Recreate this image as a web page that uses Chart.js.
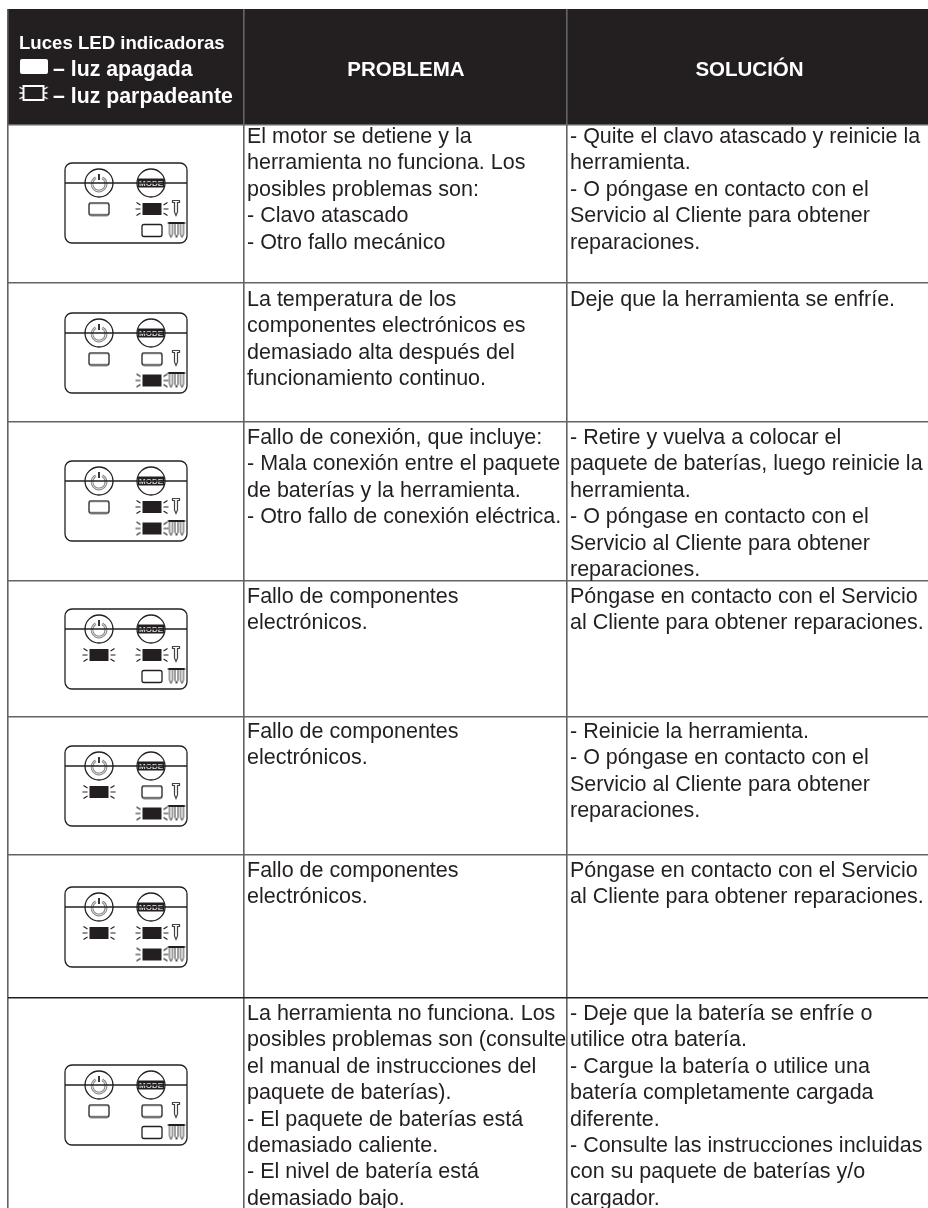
<!DOCTYPE html>
<html>
<head>
<meta charset="utf-8">
<style>
  html, body { margin: 0; padding: 0; background: #fff; }
  canvas { display: block; }
</style>
<script src="https://cdn.jsdelivr.net/npm/chart.js@4"></script>
</head>
<body>
<canvas id="myChart" width="928" height="1208"></canvas>
<script>
// table content
var headerLegend = ['Luces LED indicadoras', '– luz apagada', '– luz parpadeante'];
var headerProblem = 'PROBLEMA';
var headerSolution = 'SOLUCIÓN';

var problems = [
  ['El motor se detiene y la', 'herramienta no funciona. Los', 'posibles problemas son:', '- Clavo atascado', '- Otro fallo mecánico'],
  ['La temperatura de los', 'componentes electrónicos es', 'demasiado alta después del', 'funcionamiento continuo.'],
  ['Fallo de conexión, que incluye:', '- Mala conexión entre el paquete', 'de baterías y la herramienta.', '- Otro fallo de conexión eléctrica.'],
  ['Fallo de componentes', 'electrónicos.'],
  ['Fallo de componentes', 'electrónicos.'],
  ['Fallo de componentes', 'electrónicos.'],
  ['La herramienta no funciona. Los', 'posibles problemas son (consulte', 'el manual de instrucciones del', 'paquete de baterías).', '- El paquete de baterías está', 'demasiado caliente.', '- El nivel de batería está', 'demasiado bajo.']
];
var solutions = [
  ['- Quite el clavo atascado y reinicie la', 'herramienta.', '- O póngase en contacto con el', 'Servicio al Cliente para obtener', 'reparaciones.'],
  ['Deje que la herramienta se enfríe.'],
  ['- Retire y vuelva a colocar el', 'paquete de baterías, luego reinicie la', 'herramienta.', '- O póngase en contacto con el', 'Servicio al Cliente para obtener', 'reparaciones.'],
  ['Póngase en contacto con el Servicio', 'al Cliente para obtener reparaciones.'],
  ['- Reinicie la herramienta.', '- O póngase en contacto con el', 'Servicio al Cliente para obtener', 'reparaciones.'],
  ['Póngase en contacto con el Servicio', 'al Cliente para obtener reparaciones.'],
  ['- Deje que la batería se enfríe o', 'utilice otra batería.', '- Cargue la batería o utilice una', 'batería completamente cargada', 'diferente.', '- Consulte las instrucciones incluidas', 'con su paquete de baterías y/o', 'cargador.']
];

// LED state per row, 1 = blinking, 0 = off
var powerLed = [0, 0, 0, 1, 1, 1, 0];
var singleLed = [1, 0, 1, 1, 0, 1, 0];
var multiLed = [0, 1, 1, 0, 1, 1, 0];

// layout, in page pixels
var columnEdges = [8, 244, 567];
var rowEdges = [124.5, 283, 421.5, 581, 717, 855, 998];
var panelCentersY = [203, 353, 501, 649, 786, 927, 1105];
var panelCenterX = 126;
var firstBaselines = [143, 306, 444, 603, 738, 877, 1020];
var lineHeight = 26.4;
var ink = '#231f20';
var rule = '#636466';

function sprite(w, h, draw) {
  var c = document.createElement('canvas');
  c.width = w;
  c.height = h;
  var g = c.getContext('2d');
  g.translate(w / 2, h / 2);
  g.strokeStyle = ink;
  g.fillStyle = ink;
  g.lineWidth = 1.3;
  draw(g);
  return c;
}

function roundBox(g, x, y, w, h, r) {
  g.beginPath();
  g.roundRect(x, y, w, h, r);
}

function rays(g, halfW, color) {
  g.strokeStyle = color;
  g.lineWidth = 1.1;
  [-1, 1].forEach(function (s) {
    g.beginPath();
    g.moveTo(s * (halfW + 2), 0); g.lineTo(s * (halfW + 7), 0);
    g.moveTo(s * (halfW + 2), -4); g.lineTo(s * (halfW + 6), -6.5);
    g.moveTo(s * (halfW + 2), 4); g.lineTo(s * (halfW + 6), 6.5);
    g.stroke();
  });
}

var panelSprite = sprite(128, 84, function (g) {
  roundBox(g, -61, -40, 122, 80, 7);
  g.stroke();
  g.beginPath();
  g.moveTo(-61, -20); g.lineTo(61, -20);
  g.stroke();
});
var powerSprite = sprite(32, 32, function (g) {
  g.fillStyle = '#fff';
  g.beginPath(); g.arc(0, 0, 14, 0, Math.PI * 2); g.fill(); g.stroke();
  g.lineWidth = 2.8;
  g.strokeStyle = '#808285';
  g.beginPath(); g.arc(0, 1, 7, -Math.PI * 0.35, Math.PI * 1.35); g.stroke();
  g.strokeStyle = ink;
  g.lineWidth = 1.8;
  g.beginPath(); g.moveTo(0, -9); g.lineTo(0, -3); g.stroke();
  g.lineWidth = 0.8;
  g.strokeStyle = '#fff';
  g.beginPath(); g.arc(0, 1, 7, -Math.PI * 0.35, Math.PI * 1.35); g.stroke();
});
var modeSprite = sprite(32, 32, function (g) {
  g.fillStyle = '#fff';
  g.beginPath(); g.arc(0, 0, 14, 0, Math.PI * 2); g.fill(); g.stroke();
  g.fillStyle = ink;
  g.fillRect(-13, -4.5, 26, 9);
  g.fillStyle = '#d8d8d8';
  g.font = 'bold 8px "Liberation Sans"';
  g.textAlign = 'center';
  g.textBaseline = 'middle';
  g.fillText('MODE', 0, 0.5, 24);
});
var ledOffSprite = sprite(24, 15, function (g) {
  roundBox(g, -10, -6, 20, 12, 2);
  g.stroke();
});
var ledBlinkSprite = sprite(38, 18, function (g) {
  g.fillRect(-9.5, -6, 19, 12);
  rays(g, 9.5, ink);
});
var nailSprite = sprite(10, 20, function (g) {
  g.strokeStyle = '#414042';
  g.lineWidth = 1.2;
  g.beginPath();
  g.moveTo(-3.5, -7.5); g.lineTo(3.5, -7.5); g.lineTo(3.5, -5.5); g.lineTo(1.5, -5.5);
  g.lineTo(1.5, 4); g.lineTo(0, 7.5); g.lineTo(-1.5, 4); g.lineTo(-1.5, -5.5); g.lineTo(-3.5, -5.5);
  g.closePath();
  g.stroke();
});
var nailsSprite = sprite(20, 20, function (g) {
  g.fillStyle = ink;
  g.fillRect(-8.5, -8, 17, 2);
  g.strokeStyle = '#414042';
  g.lineWidth = 1;
  g.beginPath();
  [-5.5, 0, 5.5].forEach(function (x) {
    g.moveTo(x - 1.5, -6); g.lineTo(x - 1.5, 4); g.lineTo(x, 7.5); g.lineTo(x + 1.5, 4); g.lineTo(x + 1.5, -6);
  });
  g.stroke();
});
var whiteSwatch = sprite(30, 17, function (g) {
  g.fillStyle = '#fff';
  roundBox(g, -14, -7.5, 28, 15, 2);
  g.fill();
});
var blinkSwatch = sprite(30, 20, function (g) {
  g.strokeStyle = '#fff';
  g.lineWidth = 2;
  g.strokeRect(-10, -7, 20, 14);
  g.lineWidth = 1.3;
  [-1, 1].forEach(function (s) {
    g.beginPath();
    g.moveTo(s * 11, 0); g.lineTo(s * 14, 0);
    g.moveTo(s * 11, -4); g.lineTo(s * 14, -6);
    g.moveTo(s * 11, 4); g.lineTo(s * 14, 6);
    g.stroke();
  });
});

function pointsFor(dx, dy, states, wanted) {
  var pts = [];
  panelCentersY.forEach(function (y, i) {
    if (!states || states[i] === wanted) pts.push({ x: panelCenterX + dx, y: y + dy });
  });
  return pts;
}

function ledPoints(wanted) {
  return pointsFor(-27, 6, powerLed, wanted)
    .concat(pointsFor(26, 6, singleLed, wanted))
    .concat(pointsFor(26, 27.5, multiLed, wanted));
}

function icons(data, style) {
  return { data: data, pointStyle: style, clip: false };
}

var tableDecor = {
  id: 'tableDecor',
  beforeDraw: function (chart) {
    var x = chart.scales.x, y = chart.scales.y, ctx = chart.ctx;
    var top = y.getPixelForValue(9), bottom = y.getPixelForValue(rowEdges[0]);
    ctx.save();
    ctx.fillStyle = ink;
    ctx.fillRect(x.getPixelForValue(8), top, x.getPixelForValue(928) - x.getPixelForValue(8), bottom - top);
    ctx.restore();
  },
  afterDatasetsDraw: function (chart) {
    var x = chart.scales.x, y = chart.scales.y, ctx = chart.ctx;
    ctx.save();
    ctx.textBaseline = 'alphabetic';
    ctx.fillStyle = '#fff';
    ctx.font = 'bold 18.6px "Liberation Sans"';
    ctx.fillText(headerLegend[0], x.getPixelForValue(19), y.getPixelForValue(49));
    ctx.font = 'bold 21.3px "Liberation Sans"';
    ctx.fillText(headerLegend[1], x.getPixelForValue(53), y.getPixelForValue(76));
    ctx.fillText(headerLegend[2], x.getPixelForValue(53), y.getPixelForValue(103));
    ctx.font = 'bold 20.5px "Liberation Sans"';
    ctx.textAlign = 'center';
    ctx.fillText(headerProblem, x.getPixelForValue(406), y.getPixelForValue(76));
    ctx.fillText(headerSolution, x.getPixelForValue(749.5), y.getPixelForValue(76));
    ctx.textAlign = 'left';
    ctx.fillStyle = ink;
    ctx.font = '21.5px "Liberation Sans"';
    firstBaselines.forEach(function (base, r) {
      problems[r].forEach(function (line, i) {
        ctx.fillText(line, x.getPixelForValue(247), y.getPixelForValue(base + i * lineHeight));
      });
      solutions[r].forEach(function (line, i) {
        ctx.fillText(line, x.getPixelForValue(570), y.getPixelForValue(base + i * lineHeight));
      });
    });
    ctx.restore();
  }
};

new Chart('myChart', {
  type: 'scatter',
  data: {
    datasets: [
      icons(pointsFor(0, 0), panelSprite),
      icons(pointsFor(-27, -20), powerSprite),
      icons(pointsFor(25, -20), modeSprite),
      icons(ledPoints(0), ledOffSprite),
      icons(ledPoints(1), ledBlinkSprite),
      icons(pointsFor(50, 5), nailSprite),
      icons(pointsFor(50.5, 27), nailsSprite),
      icons([{ x: 34, y: 66.5 }], whiteSwatch),
      icons([{ x: 33.5, y: 93 }], blinkSwatch)
    ]
  },
  options: {
    responsive: false,
    animation: false,
    events: [],
    layout: { autoPadding: false, padding: { left: 8, top: 9 } },
    plugins: { legend: { display: false }, tooltip: { enabled: false } },
    scales: {
      x: {
        type: 'linear', min: 8, max: 928,
        border: { display: false },
        ticks: { display: false },
        grid: { color: rule, lineWidth: 1.6, drawTicks: false },
        afterBuildTicks: function (axis) {
          axis.ticks = columnEdges.map(function (v) { return { value: v }; });
        }
      },
      y: {
        type: 'linear', min: 9, max: 1208, reverse: true,
        border: { display: false },
        ticks: { display: false },
        grid: {
          color: function (c) { return c.tick.value === 998 ? ink : rule; },
          lineWidth: 1.6,
          drawTicks: false
        },
        afterBuildTicks: function (axis) {
          axis.ticks = rowEdges.map(function (v) { return { value: v }; });
        }
      }
    }
  },
  plugins: [tableDecor]
});
</script>
</body>
</html>
